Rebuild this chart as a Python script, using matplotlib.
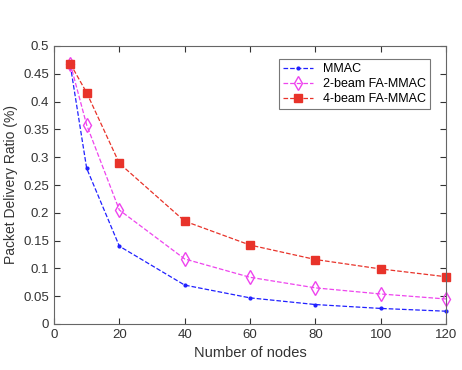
import matplotlib
matplotlib.use("Agg")
import matplotlib.pyplot as plt

# data
nodes = [5, 10, 20, 40, 60, 80, 100, 120]
mmac = [0.465, 0.280, 0.140, 0.070, 0.047, 0.035, 0.028, 0.023]
beam2 = [0.468, 0.358, 0.205, 0.117, 0.084, 0.065, 0.054, 0.045]
beam4 = [0.468, 0.416, 0.289, 0.185, 0.142, 0.116, 0.099, 0.085]

plt.rcParams['font.family'] = ['Liberation Sans', 'DejaVu Sans']

fig = plt.figure(figsize=(4.62, 3.70), dpi=100)
ax = fig.add_axes([54/462, 46/370, 392/462, 278/370])

ax.plot(nodes, mmac, '--', color='#2020ff', marker='.', markersize=4,
        linewidth=0.9, label='MMAC', clip_on=False)
ax.plot(nodes, beam2, '--', color='#ee44ee', marker='d', markersize=7,
        markerfacecolor='none', linewidth=0.9, label='2-beam FA-MMAC', clip_on=False)
ax.plot(nodes, beam4, '--', color='#e8332a', marker='s', markersize=5.5,
        linewidth=0.9, label='4-beam FA-MMAC', clip_on=False)

ax.set_xlim(0, 120)
ax.set_ylim(0, 0.5)
ax.set_xticks(range(0, 121, 20))
ax.set_yticks([0, 0.05, 0.1, 0.15, 0.2, 0.25, 0.3, 0.35, 0.4, 0.45, 0.5])
ax.set_yticklabels(['0', '0.05', '0.1', '0.15', '0.2', '0.25', '0.3',
                    '0.35', '0.4', '0.45', '0.5'])
ax.tick_params(direction='in', top=True, right=True, labelsize=9.5,
               colors='#333333', length=4)
for s in ax.spines.values():
    s.set_color('#666666')
ax.set_xlabel('Number of nodes', fontsize=10.5, color='#333333')
ax.set_ylabel('Packet Delivery Ratio (%)', fontsize=10, color='#333333')

leg = ax.legend(loc='upper right', bbox_to_anchor=(0.975, 0.975), fontsize=9,
                fancybox=False, edgecolor='#555555', handlelength=2.4,
                borderpad=0.3, labelspacing=0.25)
leg.get_frame().set_linewidth(0.8)

fig.savefig('out.png', dpi=100)
